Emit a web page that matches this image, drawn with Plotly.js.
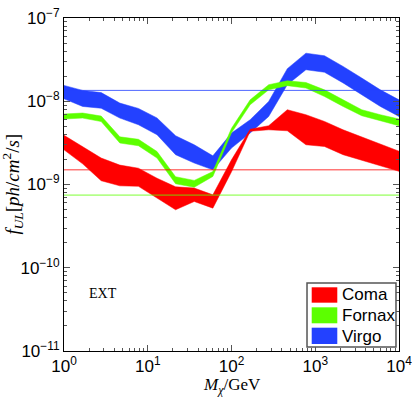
<!DOCTYPE html>
<html>
<head>
<meta charset="utf-8">
<script src="https://cdn.plot.ly/plotly-3.0.1.min.js"></script>
<style>
  html, body { margin: 0; padding: 0; background: #fff; }
  #chart { width: 415px; height: 397px; }
</style>
</head>
<body>
<div id="chart"></div>
<script>
// dark matter mass grid (GeV)
const mass = [1, 1.67, 2.78, 4.64, 7.74, 12.9, 21.5, 35.9, 59.9, 100,
              167, 278, 464, 774, 1290, 2150, 3590, 5990, 10000];

// upper limits on the flux, band edges (ph/cm^2/s)
const comaHi   = [3.90e-9, 2.86e-9, 2.08e-9, 1.71e-9, 1.57e-9, 1.19e-9, 9.38e-10, 9.06e-10, 7.52e-10, 1.98e-9,
                  4.61e-9, 5.08e-9, 7.91e-9, 6.89e-9, 5.72e-9, 4.54e-9, 3.74e-9, 3.08e-9, 2.51e-9];
const comaLo   = [2.61e-9, 1.77e-9, 1.11e-9, 9.64e-10, 9.51e-10, 6.87e-10, 4.97e-10, 6.25e-10, 5.20e-10, 1.42e-9,
                  4.36e-9, 4.54e-9, 4.42e-9, 3.00e-9, 2.86e-9, 2.28e-9, 1.94e-9, 1.68e-9, 1.44e-9];
const fornaxHi = [7.02e-9, 7.22e-9, 6.64e-9, 3.74e-9, 3.49e-9, 2.49e-9, 1.24e-9, 1.12e-9, 1.43e-9, 4.73e-9,
                  1.04e-8, 1.58e-8, 1.76e-8, 1.68e-8, 1.37e-8, 1.04e-8, 7.91e-9, 6.89e-9, 6.11e-9];
const fornaxLo = [6.12e-9, 6.28e-9, 5.70e-9, 3.15e-9, 2.92e-9, 2.08e-9, 1.02e-9, 9.25e-10, 1.25e-9, 4.18e-9,
                  9.08e-9, 1.37e-8, 1.54e-8, 1.44e-8, 1.14e-8, 8.66e-9, 6.70e-9, 5.83e-9, 5.08e-9];
const virgoHi  = [1.55e-8, 1.35e-8, 1.27e-8, 9.5e-9, 8.2e-9, 6.3e-9, 3.85e-9, 3.0e-9, 2.21e-9, 4.15e-9,
                  6.0e-9, 9.95e-9, 2.46e-8, 3.78e-8, 3.52e-8, 2.62e-8, 1.90e-8, 1.37e-8, 1.04e-8];
const virgoLo  = [1.07e-8, 8.66e-9, 8.24e-9, 6.28e-9, 5.22e-9, 3.96e-9, 2.28e-9, 1.81e-9, 1.50e-9, 2.74e-9,
                  4.15e-9, 6.57e-9, 1.58e-8, 2.39e-8, 2.23e-8, 1.66e-8, 1.20e-8, 8.66e-9, 6.57e-9];

// flat reference levels
const levelMass = [1, 10000];
const comaLevel = 1.50e-9;
const fornaxLevel = 7.46e-10;
const virgoLevel = 1.35e-8;

// tick labels
const xTickVals = [1, 10, 100, 1000, 10000];
const xTickText = ['10<sup>0</sup>', '10<sup>1</sup>', '10<sup>2</sup>', '10<sup>3</sup>', '10<sup>4</sup>'];
const yTickVals = [1e-11, 1e-10, 1e-9, 1e-8, 1e-7];
const yTickText = ['10<sup>−11</sup>', '10<sup>−10</sup>', '10<sup>−9</sup>', '10<sup>−8</sup>', '10<sup>−7</sup>'];

const legendNames = ['Coma', 'Fornax', 'Virgo'];

const RED = '#ff0000', GREEN = '#5cff00', BLUE = '#2341ff';
const SANS = 'Liberation Sans, Arial, sans-serif';
const SERIF = 'Liberation Serif, DejaVu Serif, serif';

const band = (name, hi, lo, color) => ({
    x: mass.concat(mass.slice().reverse()),
    y: hi.concat(lo.slice().reverse()),
    type: 'scatter',
    mode: 'lines',
    fill: 'toself',
    fillcolor: color,
    line: { color: color, width: 0.5 },
    name: name,
    hoverinfo: 'skip'
});

const level = (v, color) => ({
    x: levelMass,
    y: [v, v],
    type: 'scatter',
    mode: 'lines',
    line: { color: color, width: 1 },
    opacity: 0.8,
    hoverinfo: 'skip'
});

const axisCommon = {
    type: 'log',
    showline: true,
    linecolor: '#000',
    linewidth: 1,
    mirror: 'allticks',
    ticks: 'inside',
    ticklen: 6,
    tickcolor: '#555',
    tickmode: 'array',
    showgrid: false,
    zeroline: false,
    minor: { ticks: 'inside', ticklen: 3, dtick: 'D1', tickcolor: '#555', showgrid: false },
    tickfont: { family: SANS, size: 17, color: '#000' }
};

// hand-drawn legend (box, swatches, labels) in paper coordinates
const swatchY = [[0.1451, 0.1913], [0.0832, 0.1312], [0.0210, 0.0700]];
const labelY = [0.1682, 0.1072, 0.045];
const legendColors = [RED, GREEN, BLUE];

const shapes = [{
    type: 'rect', xref: 'paper', yref: 'paper',
    x0: 0.7254, x1: 0.991, y0: 0.012, y1: 0.2042,
    line: { color: '#555', width: 1.5 }, fillcolor: '#fff', layer: 'above'
}].concat(legendColors.map((c, i) => ({
    type: 'rect', xref: 'paper', yref: 'paper',
    x0: 0.7394, x1: 0.8158, y0: swatchY[i][0], y1: swatchY[i][1],
    line: { width: 0 }, fillcolor: c, layer: 'above'
})));

const annotations = legendNames.map((n, i) => ({
    xref: 'paper', yref: 'paper', x: 0.8239, y: labelY[i],
    xanchor: 'left', yanchor: 'middle', text: n, showarrow: false,
    font: { family: SANS, size: 17, color: '#000' }
})).concat([{
    x: Math.log10(2.96), y: -10.307, xref: 'x', yref: 'y',
    text: 'EXT', showarrow: false,
    font: { family: SERIF, size: 14, color: '#000' }
}, {
    // x axis title
    xref: 'paper', yref: 'paper', x: 0.5, y: -0.104, yanchor: 'middle',
    text: '<i>M</i><sub><i>χ</i></sub>/GeV', showarrow: false,
    font: { family: SERIF, size: 17, color: '#000' }
}, {
    // y axis title
    xref: 'paper', yref: 'paper', x: -0.155, y: 0.5, xanchor: 'center',
    text: '<i>f</i><sub><i>UL</i></sub>[<i>ph</i>/<i>cm</i><sup>2</sup>/<i>s</i>]', showarrow: false,
    textangle: -90,
    font: { family: SERIF, size: 19, color: '#000' }
}]);

Plotly.newPlot('chart', [
    band('Virgo', virgoHi, virgoLo, BLUE),
    band('Fornax', fornaxHi, fornaxLo, GREEN),
    band('Coma', comaHi, comaLo, RED),
    level(virgoLevel, BLUE),
    level(comaLevel, RED),
    level(fornaxLevel, GREEN)
], {
    width: 415,
    height: 397,
    margin: { l: 64, r: 16, t: 18, b: 46 },
    paper_bgcolor: '#fff',
    plot_bgcolor: '#fff',
    showlegend: false,
    xaxis: Object.assign({}, axisCommon, {
        range: [0, 4], tickvals: xTickVals, ticktext: xTickText
    }),
    yaxis: Object.assign({}, axisCommon, {
        range: [-11, -7], tickvals: yTickVals, ticktext: yTickText
    }),
    shapes: shapes,
    annotations: annotations
}, { staticPlot: true });
</script>
</body>
</html>
